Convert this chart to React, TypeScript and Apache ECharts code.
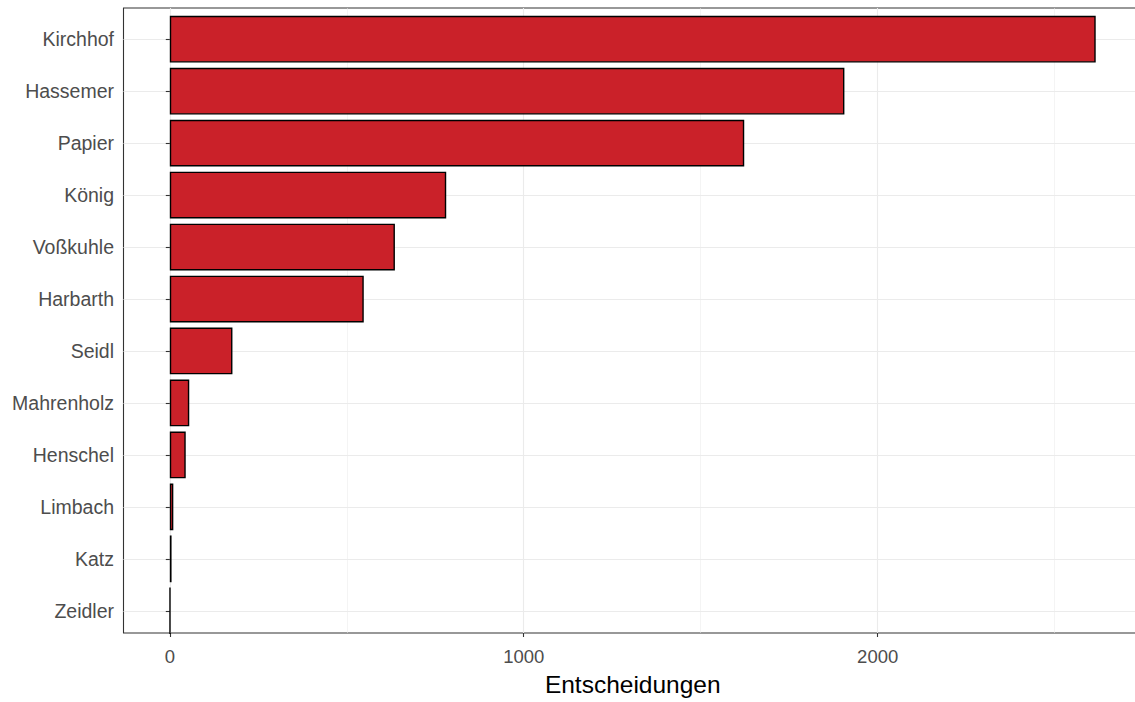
import React, { useEffect, useRef } from "react";
import * as echarts from "echarts";

const judges = [
  "Kirchhof", "Hassemer", "Papier", "König", "Voßkuhle", "Harbarth",
  "Seidl", "Mahrenholz", "Henschel", "Limbach", "Katz", "Zeidler",
];
const decisions = [2616, 1906, 1623, 781, 636, 548, 177, 55, 45, 10, 5, 1];
const majorTicks = [0, 1000, 2000];
const minorTicks = [500, 1500, 2500];
const xTitle = "Entscheidungen";

const X_MIN = -130.8;
const X_MAX = 2746.8;
const FONT = "Liberation Sans, Arial, Helvetica, sans-serif";

export default function App() {
  const ref = useRef<HTMLDivElement>(null);
  useEffect(() => {
    if (!ref.current) return;
    const chart = echarts.init(ref.current, null, { renderer: "svg" });
    const L = 123.5;
    const R = 0;
    const option: any = {
      animation: false,
      backgroundColor: "#ffffff",
      textStyle: { fontFamily: FONT },
      grid: [
        { left: L, right: R, top: 8, bottom: 60, show: true, borderColor: "#333333", borderWidth: 1.1, backgroundColor: "transparent", containLabel: false },
        { left: L, right: R, top: 39.2, bottom: 91.2, containLabel: false },
        { left: L, right: R, top: 13.2, bottom: 65.2, containLabel: false },
      ],
      xAxis: [
        {
          gridIndex: 0, type: "value", min: X_MIN, max: X_MAX,
          axisLine: { show: false },
          axisTick: { show: true, length: 4, lineStyle: { color: "#333333", width: 1.1 }, customValues: majorTicks },
          axisLabel: { show: true, customValues: majorTicks, fontSize: 18.5, color: "#4d4d4d", margin: 14, fontFamily: FONT, formatter: (v: number) => String(v) },
          splitLine: { show: true, lineStyle: { color: "#ebebeb", width: 1.1 } },
          name: xTitle, nameLocation: "middle", nameGap: 39,
          nameTextStyle: { fontSize: 24.5, color: "#000000", fontFamily: FONT },
        },
        {
          gridIndex: 0, type: "value", min: X_MIN, max: X_MAX,
          axisLine: { show: false },
          axisTick: { show: false, customValues: minorTicks },
          axisLabel: { show: false, customValues: minorTicks },
          splitLine: { show: true, lineStyle: { color: "#ebebeb", width: 0.55 } },
        },
        { gridIndex: 1, type: "value", min: X_MIN, max: X_MAX, show: false },
        { gridIndex: 2, type: "value", min: X_MIN, max: X_MAX, show: false },
      ],
      yAxis: [
        { gridIndex: 0, type: "value", show: false },
        {
          gridIndex: 1, type: "category", data: judges, inverse: true, boundaryGap: false,
          axisLine: { show: false },
          axisTick: { show: true, length: 4, alignWithLabel: true, lineStyle: { color: "#333333", width: 1.1 } },
          axisLabel: { fontSize: 19.5, color: "#4d4d4d", margin: 9.5, interval: 0, fontFamily: FONT },
          splitLine: { show: true, interval: 0, lineStyle: { color: "#ebebeb", width: 1.1 } },
        },
        { gridIndex: 2, type: "category", data: judges, inverse: true, show: false },
      ],
      series: [
        {
          type: "bar",
          xAxisIndex: 3,
          yAxisIndex: 2,
          data: decisions,
          barCategoryGap: "10%",
          itemStyle: { color: "#CA2129", borderColor: "#000000", borderWidth: 1.4 },
          z: 3,
        },
      ],
    };
    chart.setOption(option);
    return () => chart.dispose();
  }, []);
  return (
    <div style={{ position: "absolute", left: 0, top: 0, width: 1135, height: 702, overflow: "hidden" }}>
      <div ref={ref} style={{ width: 1142, height: 702 }} />
    </div>
  );
}
